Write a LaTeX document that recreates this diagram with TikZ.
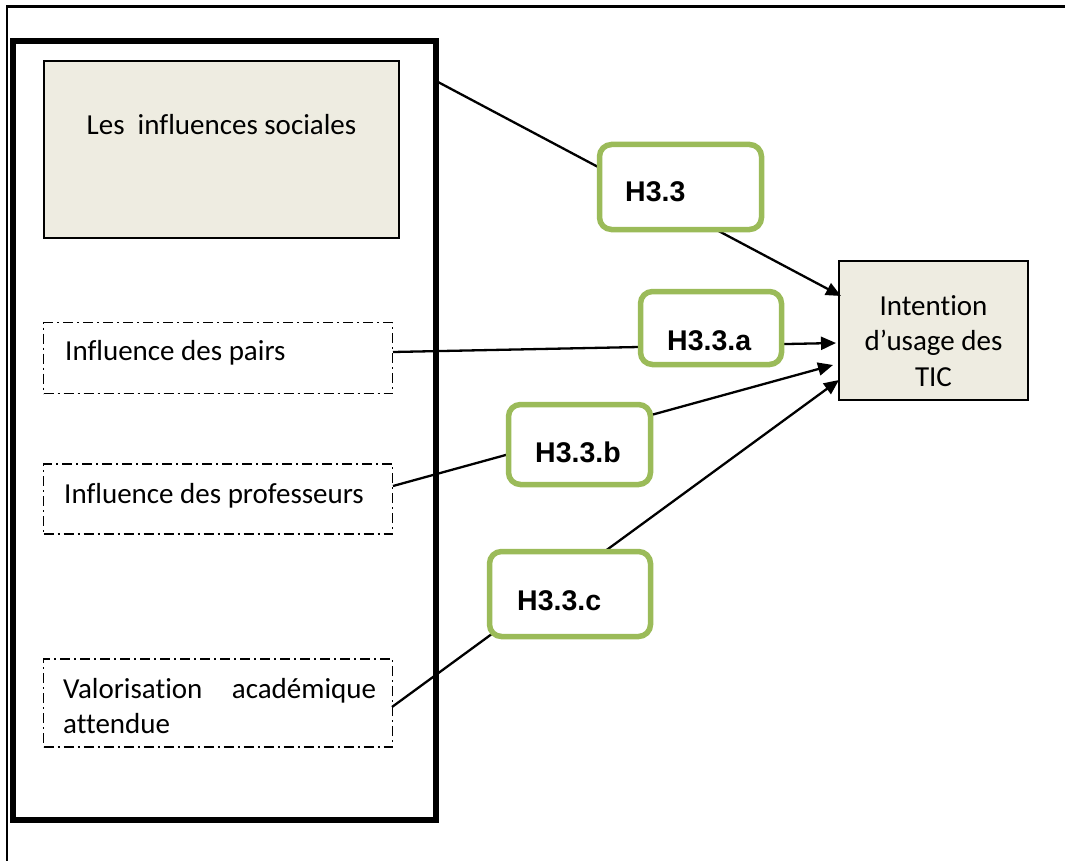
\documentclass[tikz,border=0pt]{standalone}
\usepackage{fontspec}
\setmainfont{Carlito}[Ligatures=NoCommon]
\newfontfamily\labfont{Liberation Sans}
\usetikzlibrary{arrows.meta}
\definecolor{hgreen}{HTML}{9BBB59}
\definecolor{tan}{HTML}{EEECE1}
\begin{document}
\begin{tikzpicture}[x=1pt,y=-1pt,
  txt/.style={inner sep=0pt,font=\fontsize{29}{35.5}\selectfont},
  lab/.style={inner sep=0pt,font=\labfont\bfseries\fontsize{28.5}{34}\selectfont},
  conn/.style={line width=2.3pt},
  arr/.style={conn,-{Triangle[length=15pt,width=13pt]}},
  hbox/.style={draw=hgreen,line width=5.5pt,rounded corners=12pt,fill=white,inner sep=0pt},
  tanbox/.style={draw=black,line width=1.6pt,fill=tan,inner sep=0pt},
  ddbox/.style={draw=black,line width=1.5pt,dash pattern=on 10pt off 4pt on 2pt off 4pt,inner sep=0pt}
]
\useasboundingbox (0,0) rectangle (1065,861);
% outer frame (top and left lines)
\draw[line width=2.5pt] (7,861) -- (7,6.5) -- (1065,6.5);
% thick group frame
\node[draw=black,line width=6pt,minimum width=423pt,minimum height=779pt,inner sep=0pt] (grp) at (224,430.5) {};
% boxes
\node[tanbox,minimum width=355pt,minimum height=177pt] (soc) at (221.5,149.5) {};
\node[txt,anchor=base] (soctxt) at (221.5,135) {Les\ \ influences sociales};
\node[ddbox,minimum width=349pt,minimum height=71pt] (pairs) at (218,358) {};
\node[txt,anchor=base west] (pairstxt) at (65,360) {Influence des pairs};
\node[ddbox,minimum width=349pt,minimum height=70pt] (prof) at (218,499) {};
\node[txt,anchor=base west] (proftxt) at (64,503) {Influence des professeurs};
\node[ddbox,minimum width=349pt,minimum height=88pt] (valo) at (218,703) {};
\node[txt,anchor=base west] (valo1) at (63,698) {\makebox[313pt][s]{Valorisation académique}};
\node[txt,anchor=base west] (valo2) at (63,733) {attendue};
\node[tanbox,draw=black,line width=2pt,minimum width=189pt,minimum height=139pt] (intent) at (933.5,330.5) {};
\node[txt,anchor=base] (it1) at (933.5,315) {Intention};
\node[txt,anchor=base] (it2) at (933.5,350) {d’usage des};
\node[txt,anchor=base] (it3) at (933.5,386) {TIC};
% connector end points
\coordinate (s1) at (438,82);
\coordinate (s2) at (393,352);
\coordinate (s3) at (393,486);
\coordinate (s4) at (392,707);
\coordinate (e1) at (841,296);
\coordinate (e2) at (836,343);
\coordinate (e3) at (833,365);
\coordinate (e4) at (839,380);
\draw[arr] (s1) -- (e1);
\draw[arr] (s2) -- (e2);
\draw[arr] (s3) -- (e3);
\draw[arr] (s4) -- (e4);
% hypothesis boxes
\node[hbox,minimum width=162pt,minimum height=85pt] (h33) at (680.5,187) {};
\node[lab,anchor=base west] (h33t) at (625,202) {H3.3};
\node[hbox,minimum width=141pt,minimum height=73pt] (h33a) at (711,328) {};
\node[lab,anchor=base west] (h33at) at (667,350) {H3.3.a};
\node[hbox,minimum width=142pt,minimum height=80pt] (h33b) at (579.5,444.5) {};
\node[lab,anchor=base west] (h33bt) at (535,462) {H3.3.b};
\node[hbox,minimum width=161pt,minimum height=85pt] (h33c) at (570,594) {};
\node[lab,anchor=base west] (h33ct) at (517,610) {H3.3.c};
\end{tikzpicture}
\end{document}
